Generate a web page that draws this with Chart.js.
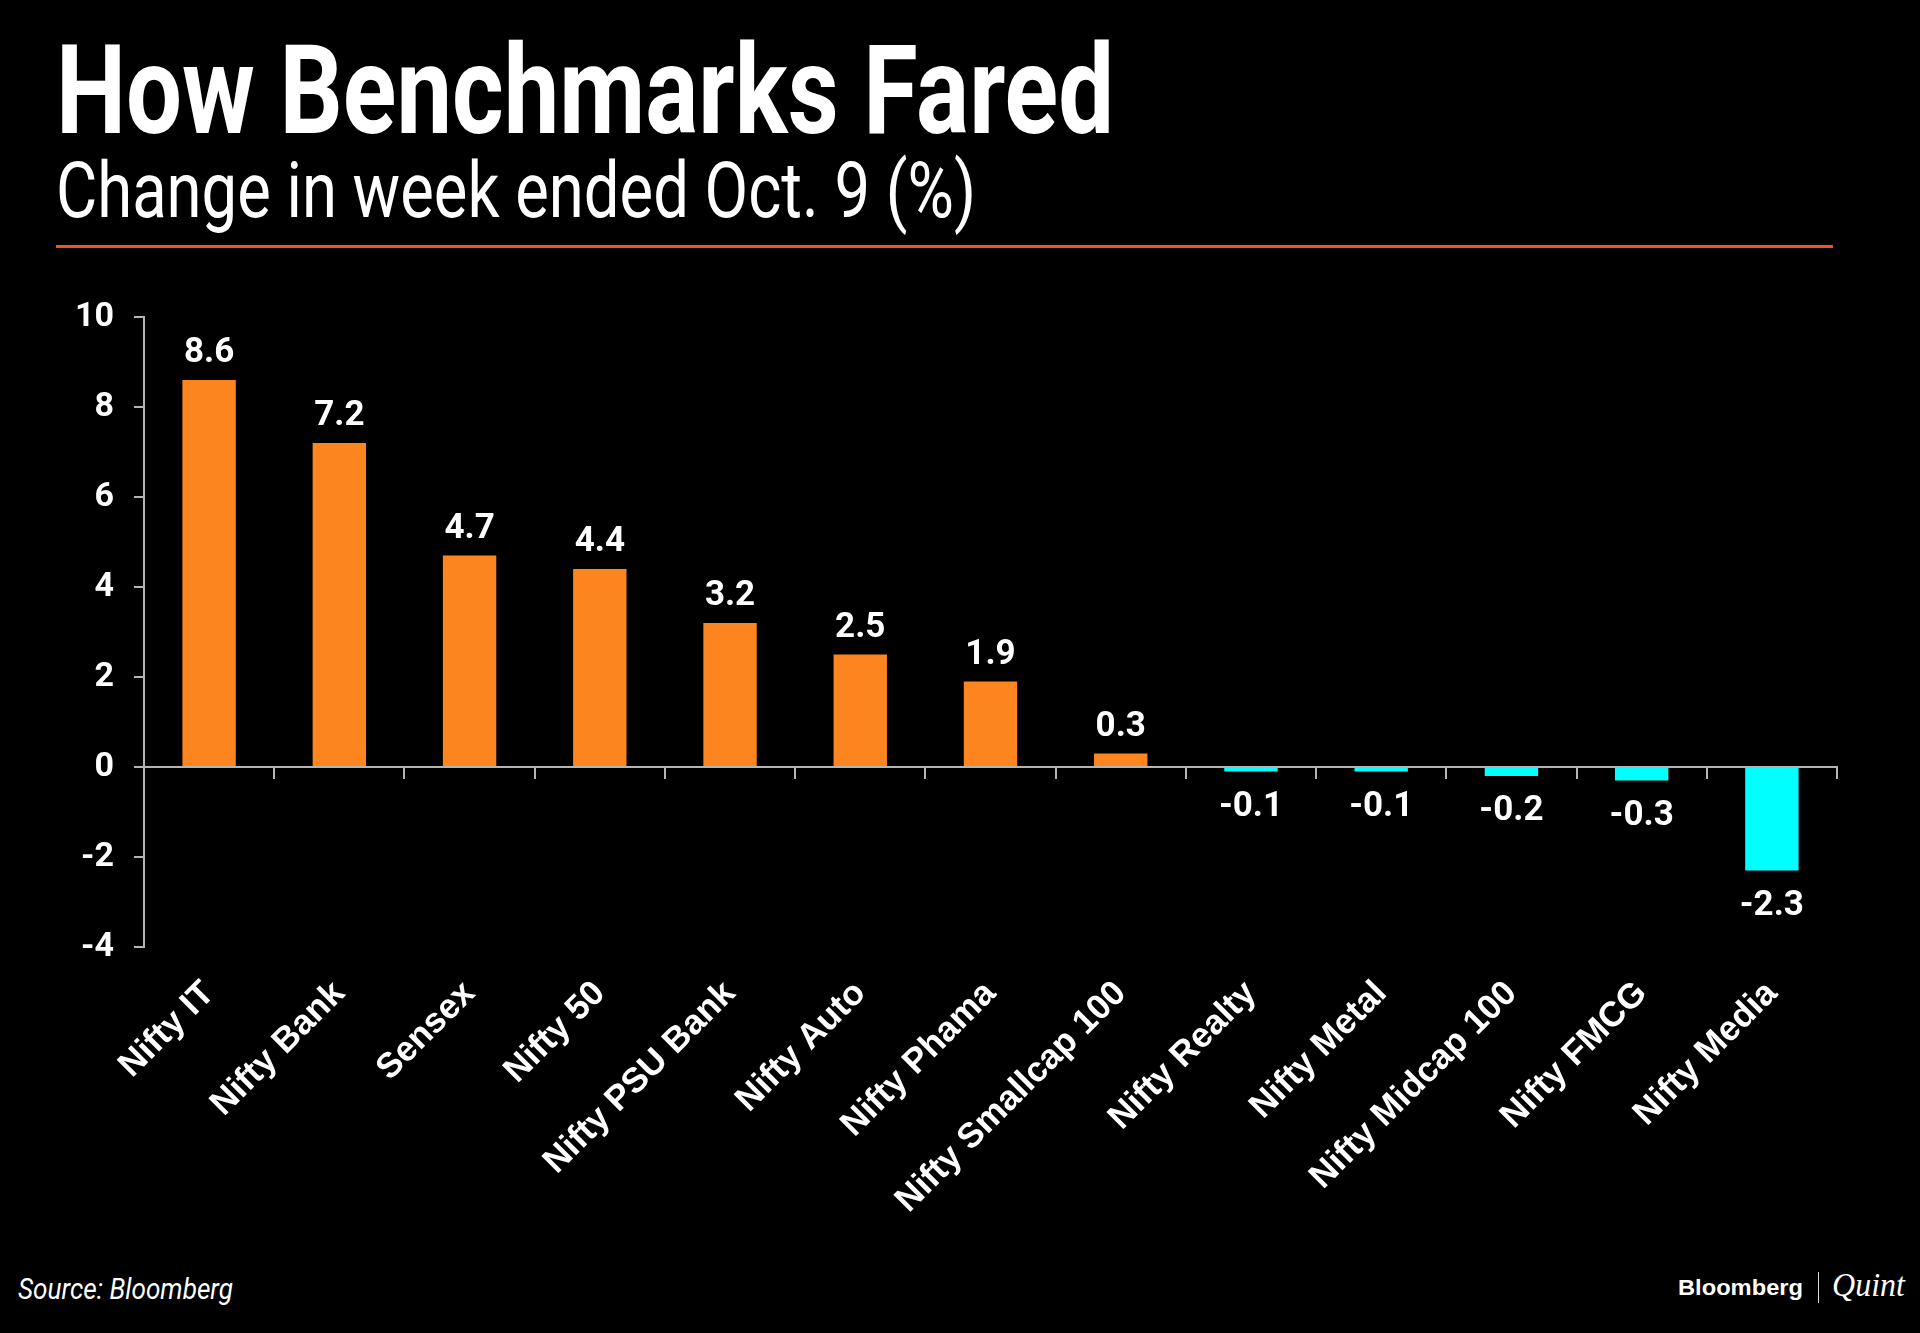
<!DOCTYPE html>
<html lang="en">
<head>
<meta charset="UTF-8">
<title>How Benchmarks Fared</title>
<style>
  html, body { margin: 0; padding: 0; background: #000; }
  body { width: 1920px; height: 1333px; position: relative; overflow: hidden; }
  .txt { position: absolute; color: #fff; line-height: 1; white-space: nowrap; transform-origin: 0 0; }
  #title { left: 56px; top: 18px; font: bold 124px Roboto, sans-serif; }
  #subtitle { left: 56px; top: 146px; font: 77px Roboto, sans-serif; }
  #rule { position: absolute; left: 56px; top: 245px; width: 1777px; height: 3px; background: #e9562b; }
  #chartBox { position: absolute; left: 0; top: 260px; width: 1920px; height: 1000px; }
  #source { left: 18px; top: 1272px; font: italic 29px Roboto, sans-serif; }
  #bloomberg { left: 1678px; top: 1275px; font: bold 22px "Liberation Sans", Arial, sans-serif; }
  #divider { position: absolute; left: 1818px; top: 1272px; width: 1px; height: 31px; background: #ddd; }
  #quint { left: 1832px; top: 1267px; font: italic 33px "Liberation Serif", serif; }
</style>
</head>
<body>
  <div class="txt" id="title" data-w="1058">How Benchmarks Fared</div>
  <div class="txt" id="subtitle" data-w="920">Change in week ended Oct. 9 (%)</div>
  <div id="rule"></div>

  <div id="chartBox">
    <canvas id="myChart" width="1920" height="1000"></canvas>
  </div>

  <div class="txt" id="source" data-w="215">Source: Bloomberg</div>
  <div class="txt" id="bloomberg" data-w="125">Bloomberg</div>
  <div id="divider"></div>
  <div class="txt" id="quint" data-w="73">Quint</div>

<script src="https://cdn.jsdelivr.net/npm/chart.js"></script>
<script>
  var categorias = ['Nifty IT', 'Nifty Bank', 'Sensex', 'Nifty 50', 'Nifty PSU Bank', 'Nifty Auto', 'Nifty Phama',
    'Nifty Smallcap 100', 'Nifty Realty', 'Nifty Metal', 'Nifty Midcap 100', 'Nifty FMCG', 'Nifty Media']
  var valores = [8.6, 7.2, 4.7, 4.4, 3.2, 2.5, 1.9, 0.3, -0.1, -0.1, -0.2, -0.3, -2.3]
  var yTicks = [-4, -2, 0, 2, 4, 6, 8, 10]

  var laranja = '#fd8520'
  var ciano = '#00ffff'
  var cinza = '#b4b4b4'

  // squeeze the html texts to the widths of the reference (condensed look)
  function ajustarTextos() {
    document.querySelectorAll('.txt').forEach(function (el) {
      var w = el.getBoundingClientRect().width
      var alvo = Number(el.dataset.w)
      el.style.transform = 'scaleX(' + (alvo / w) + ')'
    })
  }
  document.fonts.ready.then(ajustarTextos)

  // value labels above / below each bar
  const rotulos = {
    id: 'rotulos',
    afterDatasetsDraw(chart) {
      const c = chart.ctx
      const meta = chart.getDatasetMeta(0)
      c.save()
      c.fillStyle = '#fff'
      c.font = 'bold 35px Roboto'
      c.textAlign = 'center'
      c.textBaseline = 'alphabetic'
      meta.data.forEach((bar, i) => {
        const v = valores[i]
        const y = v >= 0 ? bar.y - 18 : bar.y + 44
        c.fillText(v.toFixed(1), bar.x, y)
      })
      c.restore()
    }
  }

  const ctx = document.getElementById('myChart')

  new Chart(ctx, {
    type: 'bar',
    data: {
      labels: categorias,
      datasets: [{
        data: valores,
        xAxisID: 'x',
        yAxisID: 'y',
        backgroundColor: valores.map(v => v >= 0 ? laranja : ciano),
        borderWidth: 0,
        barPercentage: 0.41,
        categoryPercentage: 1
      }]
    },
    options: {
      responsive: false,
      animation: false,
      devicePixelRatio: 1,
      layout: { padding: { top: 57, right: 83, left: 0, bottom: 0 } },
      plugins: {
        legend: { display: false },
        tooltip: { enabled: false }
      },
      scales: {
        x: {
          type: 'category',
          position: 'bottom',
          offset: true,
          border: { display: false },
          grid: { display: false, drawTicks: false },
          ticks: {
            color: '#fff',
            font: { family: 'Liberation Sans', weight: 'bold', size: 35 },
            minRotation: 45,
            maxRotation: 45,
            autoSkip: false,
            padding: 26
          },
          afterFit: function (s) { s.height = 313 }
        },
        x2: {
          type: 'category',
          axis: 'x',
          position: { y: 0 },
          offset: true,
          border: { display: true, color: cinza, width: 2 },
          grid: { offset: true, drawOnChartArea: false, drawTicks: true, tickLength: 11, color: cinza, lineWidth: 2 },
          ticks: { display: false },
          afterFit: function (s) { s.height = 0 }
        },
        y: {
          position: 'left',
          min: -4,
          max: 10,
          border: { display: true, color: cinza, width: 2 },
          grid: { drawOnChartArea: false, drawTicks: true, tickLength: 10, color: cinza, lineWidth: 2 },
          ticks: {
            color: '#fff',
            font: { family: 'Roboto', weight: 'bold', size: 34 },
            padding: 20
          },
          afterBuildTicks: function (s) { s.ticks = yTicks.map(v => ({ value: v })) },
          afterFit: function (s) { s.width = 144 }
        }
      }
    },
    plugins: [rotulos]
  })
</script>
</body>
</html>
